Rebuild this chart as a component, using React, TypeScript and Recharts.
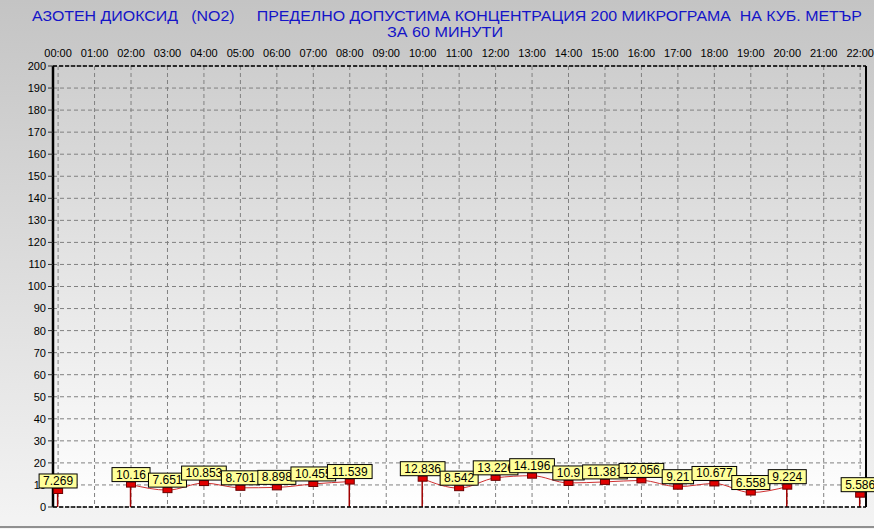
import React from "react";
import {
  ComposedChart,
  Line,
  Bar,
  XAxis,
  YAxis,
  CartesianGrid,
  ReferenceLine,
} from "recharts";

const HOURS = [
  "00:00", "01:00", "02:00", "03:00", "04:00", "05:00", "06:00", "07:00",
  "08:00", "09:00", "10:00", "11:00", "12:00", "13:00", "14:00", "15:00",
  "16:00", "17:00", "18:00", "19:00", "20:00", "21:00", "22:00",
];

const NO2: (number | null)[] = [
  7.269, null, 10.16, 7.651, 10.853, 8.701, 8.898, 10.455, 11.539, null,
  12.836, 8.542, 13.226, 14.196, 10.9, 11.381, 12.056, 9.21, 10.677, 6.558,
  9.224, null, 5.586,
];

const Y_TICKS = [
  0, 10, 20, 30, 40, 50, 60, 70, 80, 90, 100, 110, 120, 130, 140, 150, 160,
  170, 180, 190, 200,
];

const TITLE_1 =
  "АЗОТЕН ДИОКСИД   (NO2)     ПРЕДЕЛНО ДОПУСТИМА КОНЦЕНТРАЦИЯ 200 МИКРОГРАМА  НА КУБ. МЕТЪР";
const TITLE_2 = "ЗА 60 МИНУТИ";

// stems are drawn where a run of readings starts or ends
const data = HOURS.map((hour, i) => {
  const v = NO2[i];
  const edge = v != null && (NO2[i - 1] == null || NO2[i + 1] == null);
  return { x: i, hour, value: v, stem: edge ? v : null };
});

const FONT = "'Liberation Sans', Arial, sans-serif";

function textWidth(s: string) {
  let w = 0;
  for (const c of s) w += c === "." ? 3.34 : 6.67;
  return w;
}

function Marker(props: any) {
  const { cx, cy, payload } = props;
  if (cx == null || cy == null || payload?.value == null) return null;
  return (
    <rect x={cx - 4.5} y={cy - 2.5} width={9} height={5} fill="#e00000" stroke="#6a0000" strokeWidth={1} />
  );
}

function ValueTag(props: any) {
  const { x, y, value } = props;
  if (value == null || x == null || y == null) return null;
  const s = String(value);
  const w = textWidth(s) + 8;
  const h = 14;
  return (
    <g>
      <rect x={x - w / 2} y={y - 3 - h} width={w} height={h} fill="#ffff99" stroke="#000" strokeWidth={1} />
      <text x={x} y={y - 6} textAnchor="middle" fontSize={12} fontFamily={FONT} fill="#000">
        {s}
      </text>
    </g>
  );
}

export default function App() {
  return (
    <div
      style={{
        position: "fixed",
        left: 0,
        top: 0,
        width: 874,
        height: 529,
        background: "linear-gradient(#c4c4c4, #f4f4f4)",
        fontFamily: FONT,
      }}
    >
      <svg width={874} height={42} style={{ position: "absolute", left: 0, top: 0 }}>
        <text
          x={32}
          y={21}
          fontSize={15}
          fontFamily="'Liberation Sans Narrow', 'Liberation Sans', Arial, sans-serif"
          fill="#1414c8"
          textLength={830}
          lengthAdjust="spacingAndGlyphs"
          style={{ whiteSpace: "pre" }}
        >
          {TITLE_1}
        </text>
        <text
          x={387}
          y={37}
          fontSize={15}
          fontFamily="'Liberation Sans Narrow', 'Liberation Sans', Arial, sans-serif"
          fill="#1414c8"
          textLength={116}
          lengthAdjust="spacingAndGlyphs"
        >
          {TITLE_2}
        </text>
      </svg>
      <ComposedChart
        width={874}
        height={529}
        data={data}
        margin={{ top: 46, right: 0, bottom: 22, left: 0 }}
        style={{ position: "absolute", left: 0, top: 0 }}
      >
        <defs>
          <linearGradient id="plotBg" x1="0" y1="0" x2="0" y2="1">
            <stop offset="0%" stopColor="#cecece" />
            <stop offset="100%" stopColor="#ffffff" />
          </linearGradient>
        </defs>
        <CartesianGrid
          fill="url(#plotBg)"
          stroke="#808080"
          strokeDasharray="4 3"
          verticalValues={HOURS.map((_, i) => i)}
        />
        <XAxis
          dataKey="x"
          type="number"
          orientation="top"
          domain={[-0.14, 22.16]}
          allowDataOverflow
          ticks={HOURS.map((_, i) => i)}
          interval={0}
          tickFormatter={(i: number) => HOURS[i]}
          height={20}
          tickLine={false}
          tickSize={4}
          tickMargin={5}
          axisLine={{ stroke: "#000", strokeWidth: 1.5, strokeDasharray: "4 2" }}
          tick={{ fill: "#000", fontSize: 11, fontFamily: FONT }}
        />
        <YAxis
          domain={[0, 200]}
          ticks={Y_TICKS}
          interval={0}
          width={53}
          tickSize={5}
          tickMargin={2}
          axisLine={{ stroke: "#000", strokeWidth: 2.5 }}
          tickLine={{ stroke: "#333" }}
          tick={{ fill: "#000", fontSize: 11, fontFamily: FONT }}
        />
        <YAxis
          yAxisId="r"
          orientation="right"
          domain={[0, 200]}
          width={8}
          tick={false}
          tickLine={false}
          axisLine={{ stroke: "#000", strokeWidth: 2 }}
        />
        <ReferenceLine y={0} stroke="#000" strokeWidth={1.5} strokeDasharray="4 2" />
        <Bar dataKey="stem" barSize={1.5} fill="#a00000" isAnimationActive={false} />
        <Line
          dataKey="value"
          type="monotone"
          stroke="#d03030"
          strokeWidth={1}
          connectNulls={false}
          dot={<Marker />}
          activeDot={false}
          label={<ValueTag />}
          isAnimationActive={false}
        />
      </ComposedChart>
      <div
        style={{
          position: "absolute",
          left: 0,
          top: 526,
          width: 874,
          height: 2,
          background: "#909090",
        }}
      />
    </div>
  );
}
